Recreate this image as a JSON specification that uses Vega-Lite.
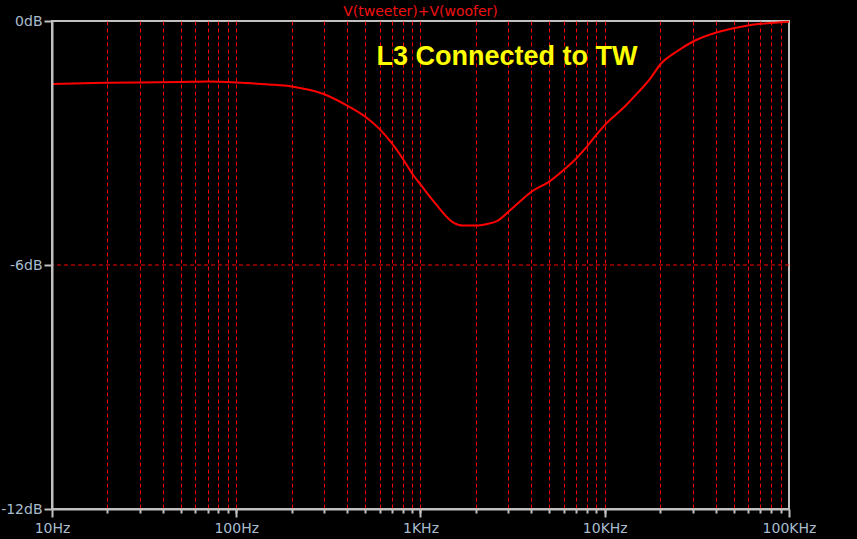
{
  "$schema": "https://vega.github.io/schema/vega-lite/v6.json",
  "width": 737,
  "height": 488,
  "autosize": {"type": "none"},
  "padding": {"left": 52, "top": 21, "right": 68, "bottom": 30},
  "background": "#000000",
  "config": {
    "view": {"stroke": "#c0c0c0", "strokeWidth": 2, "fill": "#000000"},
    "axis": {
      "labelFont": "DejaVu Sans",
      "labelFontSize": 14,
      "labelColor": "#a9bccf",
      "domainColor": "#c0c0c0",
      "domainWidth": 2,
      "tickColor": "#c0c0c0",
      "tickWidth": 2,
      "title": null
    }
  },
  "title": {
    "text": "V(tweeter)+V(woofer)",
    "font": "DejaVu Sans",
    "fontSize": 14,
    "fontWeight": "normal",
    "color": "#f01010",
    "anchor": "middle",
    "frame": "group",
    "offset": -5
  },
  "datasets": {
    "curve": [
      {"freq": 10, "db": -1.55},
      {"freq": 15, "db": -1.53},
      {"freq": 20, "db": -1.52},
      {"freq": 30, "db": -1.51},
      {"freq": 50, "db": -1.50},
      {"freq": 70, "db": -1.49},
      {"freq": 100, "db": -1.51},
      {"freq": 150, "db": -1.56},
      {"freq": 200, "db": -1.61},
      {"freq": 300, "db": -1.80},
      {"freq": 400, "db": -2.08},
      {"freq": 500, "db": -2.35},
      {"freq": 600, "db": -2.66},
      {"freq": 700, "db": -3.01},
      {"freq": 800, "db": -3.38},
      {"freq": 900, "db": -3.75},
      {"freq": 1000, "db": -4.02},
      {"freq": 1200, "db": -4.48},
      {"freq": 1500, "db": -4.95},
      {"freq": 1700, "db": -5.03},
      {"freq": 2000, "db": -5.03},
      {"freq": 2300, "db": -4.99},
      {"freq": 2600, "db": -4.92},
      {"freq": 3000, "db": -4.69},
      {"freq": 3500, "db": -4.42},
      {"freq": 4000, "db": -4.20},
      {"freq": 5000, "db": -3.95},
      {"freq": 6000, "db": -3.66},
      {"freq": 7000, "db": -3.38},
      {"freq": 8000, "db": -3.09},
      {"freq": 9000, "db": -2.80},
      {"freq": 10000, "db": -2.56},
      {"freq": 12800, "db": -2.11},
      {"freq": 15000, "db": -1.78},
      {"freq": 17700, "db": -1.41},
      {"freq": 20000, "db": -1.07},
      {"freq": 24600, "db": -0.75},
      {"freq": 30000, "db": -0.51},
      {"freq": 40000, "db": -0.29},
      {"freq": 50000, "db": -0.18},
      {"freq": 60000, "db": -0.11},
      {"freq": 70000, "db": -0.07},
      {"freq": 90000, "db": -0.03},
      {"freq": 100000, "db": -0.02}
    ],
    "note": [
      {"freq": 2948, "db": -1.08, "label": "L3 Connected to TW"}
    ],
    "hgrid": [
      {"db": -6}
    ]
  },
  "layer": [
    {
      "data": {"name": "curve"},
      "mark": {"type": "line", "opacity": 0},
      "encoding": {
        "x": {
          "field": "freq", "type": "quantitative",
          "scale": {"type": "log", "domain": [10, 100000], "nice": false},
          "axis": {
            "orient": "bottom",
            "values": [20, 30, 40, 50, 60, 70, 80, 90, 100, 200, 300, 400, 500, 600, 700, 800, 900, 1000, 2000, 3000, 4000, 5000, 6000, 7000, 8000, 9000, 10000, 20000, 30000, 40000, 50000, 60000, 70000, 80000, 90000],
            "labels": false,
            "domain": false,
            "tickSize": 4,
            "grid": true,
            "gridColor": "#ff0000",
            "gridDash": [4, 3],
            "gridWidth": 1,
            "zindex": 0
          }
        },
        "y": {
          "field": "db", "type": "quantitative",
          "scale": {"domain": [-12, 0], "nice": false, "zero": false},
          "axis": {
            "values": [0, -6, -12],
            "labelExpr": "datum.value + 'dB'",
            "tickSize": 8,
            "labelPadding": 2,
            "grid": false,
            "zindex": 1
          }
        }
      }
    },
    {
      "data": {"name": "hgrid"},
      "mark": {"type": "rule", "color": "#ff0000", "strokeWidth": 1, "strokeDash": [4, 3]},
      "encoding": {
        "y": {"field": "db", "type": "quantitative", "axis": null}
      }
    },
    {
      "data": {"name": "curve"},
      "mark": {"type": "line", "color": "#ff0000", "strokeWidth": 2, "interpolate": "monotone"},
      "encoding": {
        "x": {
          "field": "freq", "type": "quantitative",
          "axis": {
            "orient": "bottom",
            "values": [10, 100, 1000, 10000, 100000],
            "labelExpr": "datum.value == 10 ? '10Hz' : datum.value == 100 ? '100Hz' : datum.value == 1000 ? '1KHz' : datum.value == 10000 ? '10KHz' : '100KHz'",
            "tickSize": 8,
            "labelPadding": 4,
            "labelFlush": false,
            "grid": false,
            "zindex": 1
          }
        },
        "y": {"field": "db", "type": "quantitative", "axis": null}
      }
    },
    {
      "data": {"name": "note"},
      "mark": {"type": "text", "color": "#ffff00", "font": "Liberation Sans", "fontSize": 27, "fontWeight": "bold", "align": "center", "baseline": "alphabetic"},
      "encoding": {
        "x": {"field": "freq", "type": "quantitative", "axis": null},
        "y": {"field": "db", "type": "quantitative", "axis": null},
        "text": {"field": "label"}
      }
    }
  ],
  "resolve": {"axis": {"x": "independent", "y": "independent"}}
}
